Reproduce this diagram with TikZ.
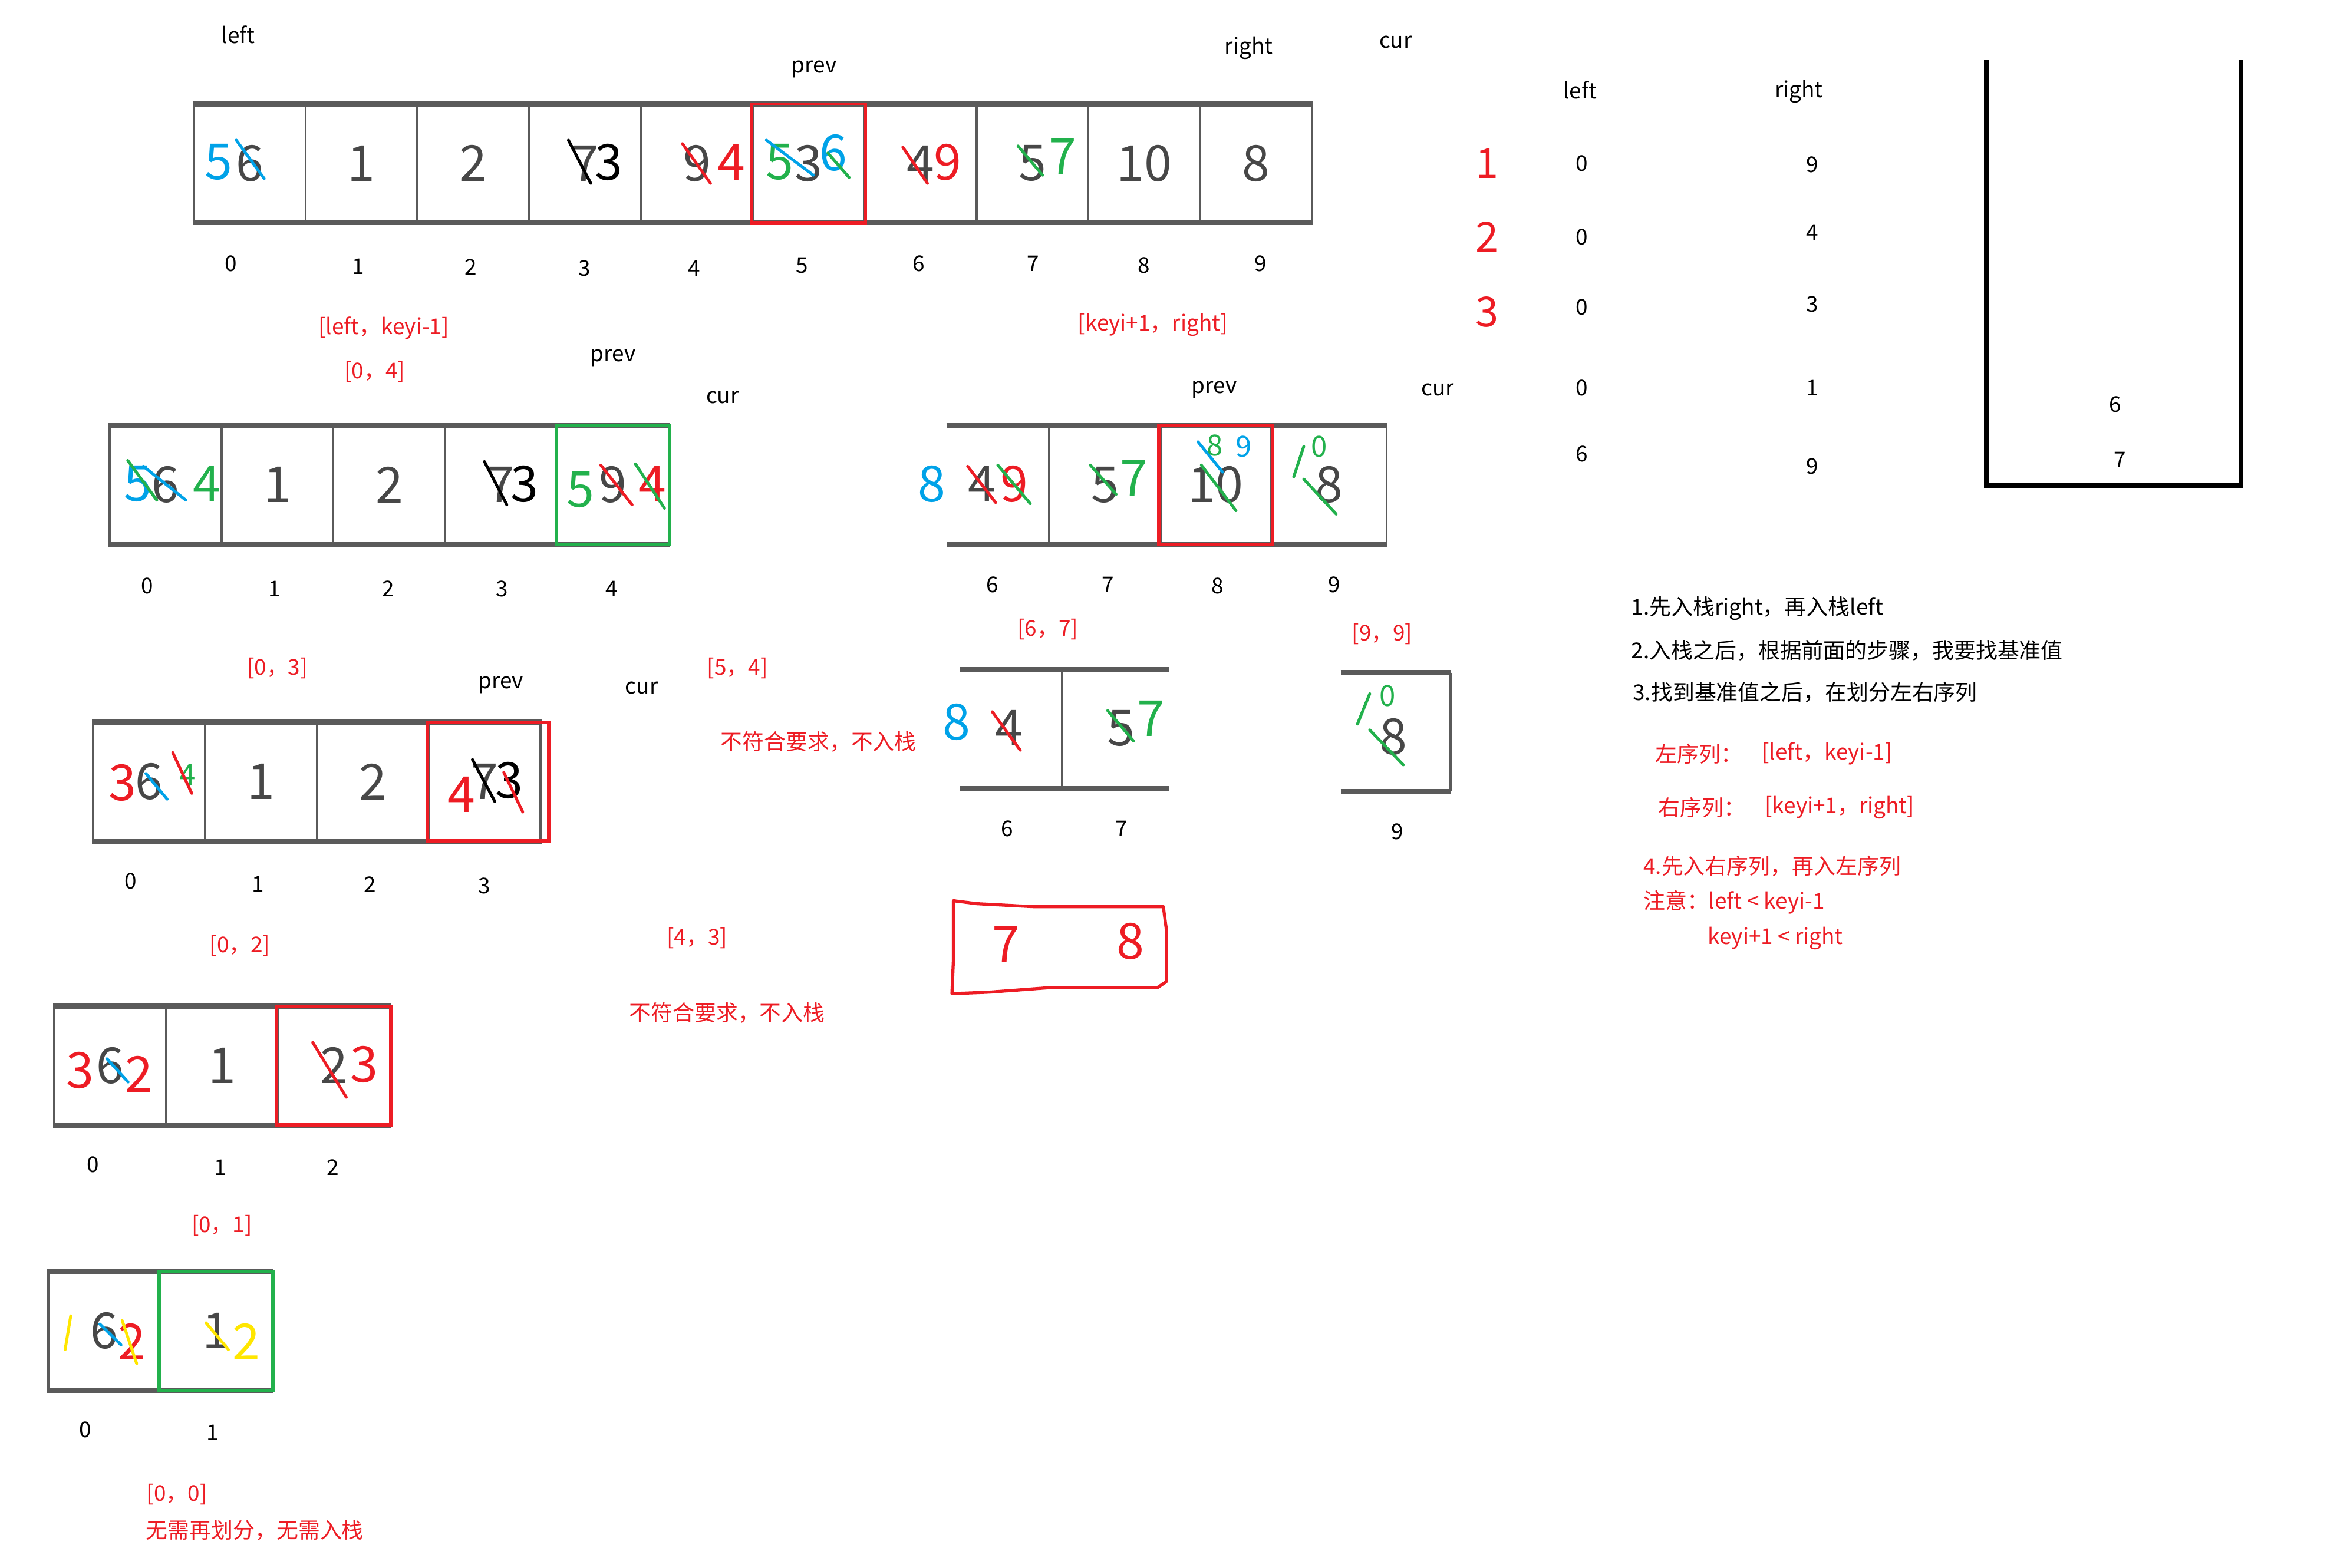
\documentclass[tikz,border=0pt]{standalone}
\usepackage{fontspec}
\setmainfont{Noto Sans CJK SC}
\usetikzlibrary{positioning}

\definecolor{pred}{HTML}{ED1C24}
\definecolor{pgreen}{HTML}{22B14C}
\definecolor{pblue}{HTML}{00A2E8}
\definecolor{pyellow}{HTML}{FFE600}
\definecolor{cellgray}{HTML}{5A5A5A}

\newcommand\notesize{\fontsize{10.5}{12}\selectfont}
\newcommand\digitsize{\fontsize{24}{26}\selectfont}
\newcommand\marksize{\fontsize{14}{15}\selectfont}

\tikzset{
  cell/.style={draw=cellgray, line width=1pt, minimum width=1.897cm, minimum height=1.98cm, inner sep=0pt, font=\digitsize, text=black!72},
  ocell/.style={cell, draw=none},
  bar/.style={draw=cellgray, line width=2.5pt},
  divider/.style={draw=cellgray, line width=1pt},
  olddigit/.style={inner sep=0pt, font=\digitsize, text=black!72},
  hw/.style={inner sep=0pt, font=\digitsize, text=#1},
  hwsmall/.style={inner sep=0pt, font=\marksize, text=#1},
  strike/.style={draw=#1, line width=1.4pt, line cap=round},
  hl/.style={draw=#1, line width=1.5pt},
  txt/.style={inner sep=0pt, font=\notesize},
  rtxt/.style={txt, text=pred},
  incell/.style={shift={(#1.north west)}, x=1.897cm, y=-1.98cm}
}

\begin{document}
\begin{tikzpicture}[x=0.025434cm, y=-0.025434cm]
\useasboundingbox (0,0) rectangle (1567.6,1046.2);

% Full array, indices 0..9
\foreach \v [count=\i from 0] in {6,1,2,7,9,3,4,5,10,8}
  \node[cell] (a1c\i) at ({166.5+74.6*\i},109) {\v};
\draw[bar] (a1c0.north west) -- (a1c9.north east);
\draw[bar] (a1c0.south west) -- (a1c9.south east);
\draw[hl=pred] (a1c5.north west) rectangle (a1c5.south east);
\foreach \i/\x/\y in {0/154/176,1/239/178,2/314/178,3/390/179,4/463/179,5/535/177,6/613/176,7/689/176,8/763/177,9/841/176}
  \node[txt] (a1i\i) at (\x,\y) {\i};
\node[txt] (a1left) at (159,23) {left};
\node[txt] (a1prev) at (543,46) {prev};
\node[txt] (a1right) at (833,32) {right};
\node[txt] (a1cur) at (931,28) {cur};

% Marks on the full array
\begin{scope}[incell=a1c0]
  \node[hw=pblue] (a1m0) at (0.23,0.5) {5};
  \draw[strike=pblue] (0.39,0.31) -- (0.64,0.64);
\end{scope}
\begin{scope}[incell=a1c3]
  \draw[strike=black] (0.36,0.31) -- (0.56,0.68);
  \node[hw=black] (a1m3) at (0.72,0.5) {3};
\end{scope}
\begin{scope}[incell=a1c4]
  \draw[strike=pred] (0.38,0.34) -- (0.63,0.68);
  \node[hw=pred] (a1m4) at (0.82,0.5) {4};
\end{scope}
\begin{scope}[incell=a1c5]
  \node[hw=pgreen] (a1m5a) at (0.25,0.5) {5};
  \draw[strike=pblue] (0.13,0.31) -- (0.55,0.61);
  \node[hw=pblue] (a1m5b) at (0.73,0.42) {6};
  \draw[strike=pgreen] (0.68,0.42) -- (0.87,0.63);
\end{scope}
\begin{scope}[incell=a1c6]
  \draw[strike=pred] (0.35,0.37) -- (0.57,0.68);
  \node[hw=pred] (a1m6) at (0.75,0.5) {9};
\end{scope}
\begin{scope}[incell=a1c7]
  \draw[strike=pgreen] (0.38,0.36) -- (0.6,0.61);
  \node[hw=pgreen] (a1m7) at (0.78,0.45) {7};
\end{scope}

% Left part [0, 4]
\node[rtxt] (l1) at (256,219) {[left，keyi-1]};
\node[rtxt] (l2) at (250,248) {[0，4]};
\foreach \v [count=\i from 0] in {6,1,2,7,9}
  \node[cell] (a2c\i) at ({110.5+74.6*\i},323.5) {\v};
\draw[bar] (a2c0.north west) -- (a2c4.north east);
\draw[bar] (a2c0.south west) -- (a2c4.south east);
\draw[hl=pgreen] (a2c4.north west) rectangle (a2c4.south east);
\foreach \i/\x/\y in {0/98/391,1/183/393,2/259/393,3/335/393,4/408/393}
  \node[txt] (a2i\i) at (\x,\y) {\i};
\node[txt] (a2prev) at (409,239) {prev};
\node[txt] (a2cur) at (482,265) {cur};
\begin{scope}[incell=a2c0]
  \node[hw=pblue] (a2m0a) at (0.26,0.5) {5};
  \draw[strike=pgreen] (0.17,0.30) -- (0.43,0.64);
  \draw[strike=pblue] (0.31,0.35) -- (0.69,0.64);
  \node[hw=pgreen] (a2m0b) at (0.88,0.5) {4};
\end{scope}
\begin{scope}[incell=a2c3]
  \draw[strike=black] (0.36,0.31) -- (0.56,0.68);
  \node[hw=black] (a2m3) at (0.72,0.5) {3};
\end{scope}
\begin{scope}[incell=a2c4]
  \node[hw=pgreen] (a2m4a) at (0.22,0.55) {5};
  \draw[strike=pred] (0.40,0.34) -- (0.68,0.68);
  \node[hw=pred] (a2m4b) at (0.86,0.5) {4};
  \draw[strike=pgreen] (0.71,0.33) -- (0.97,0.71);
\end{scope}

% Right part [6, 9]
\node[rtxt] (r1) at (769,217) {[keyi+1，right]};
\node[ocell, minimum width=1.730cm] (b2c6) at (666,323.5) {};
\node[cell] (b2c7) at (737,323.5) {5};
\node[cell] (b2c8) at (811,323.5) {10};
\node[cell, minimum width=1.958cm] (b2c9) at (886.5,323.5) {8};
\draw[bar] (b2c6.north west) -- (b2c9.north east);
\draw[bar] (b2c6.south west) -- (b2c9.south east);
\draw[hl=pred] (b2c8.north west) rectangle (b2c8.south east);
\foreach \i/\x/\y in {6/662/390,7/739/390,8/812/391,9/890/390}
  \node[txt] (b2i\i) at (\x,\y) {\i};
\node[txt] (b2prev) at (810,260) {prev};
\node[txt] (b2cur) at (959,260) {cur};
\begin{scope}[incell=b2c6]
  \node[olddigit] (b2d6) at (0.32,0.5) {4};
  \node[hw=pblue] (b2m6a) at (-0.13,0.5) {8};
  \draw[strike=pred] (0.19,0.35) -- (0.44,0.66);
  \node[hw=pred] (b2m6b) at (0.61,0.5) {9};
  \draw[strike=pgreen] (0.46,0.34) -- (0.75,0.67);
\end{scope}
\begin{scope}[incell=b2c7]
  \draw[strike=pgreen] (0.38,0.34) -- (0.61,0.59);
  \node[hw=pgreen] (b2m7) at (0.77,0.45) {7};
\end{scope}
\begin{scope}[incell=b2c8]
  \draw[strike=pgreen] (0.38,0.34) -- (0.69,0.73);
  \draw[strike=pblue] (0.35,0.14) -- (0.57,0.40);
  \node[hwsmall=pgreen] (b2m8a) at (0.5,0.17) {8};
  \node[hwsmall=pblue] (b2m8b) at (0.76,0.18) {9};
\end{scope}
\begin{scope}[incell=b2c9]
  \draw[strike=pgreen] (0.30,0.18) -- (0.21,0.44);
  \node[hwsmall=pgreen] (b2m9) at (0.44,0.18) {0};
  \draw[strike=pgreen] (0.30,0.46) -- (0.59,0.76);
\end{scope}
\node[rtxt] (r2) at (699,420) {[6，7]};
\node[rtxt] (r3) at (922,423) {[9，9]};

% Left part [0, 3]
\node[rtxt] (l3) at (185,446) {[0，3]};
\foreach \v [count=\i from 0] in {6,1,2,7}
  \node[cell] (a3c\i) at ({99.5+74.6*\i},521.5) {\v};
\draw[bar] (a3c0.north west) -- (a3c3.north east);
\draw[bar] (a3c0.south west) -- (a3c3.south east);
\draw[hl=pred] (a3c3.north west) rectangle ([xshift=0.12cm]a3c3.south east);
\foreach \i/\x/\y in {0/87/588,1/172/590,2/247/590,3/323/591}
  \node[txt] (a3i\i) at (\x,\y) {\i};
\node[txt] (a3prev) at (334,457) {prev};
\node[txt] (a3cur) at (428,459) {cur};
\begin{scope}[incell=a3c0]
  \node[hw=pred] (a3m0a) at (0.27,0.52) {3};
  \draw[strike=pblue] (0.48,0.44) -- (0.67,0.66);
  \node[hwsmall=pgreen] (a3m0b) at (0.85,0.45) {4};
  \draw[strike=pred] (0.72,0.26) -- (0.89,0.61);
\end{scope}
\begin{scope}[incell=a3c3]
  \draw[strike=black] (0.40,0.32) -- (0.60,0.68);
  \node[hw=black] (a3m3a) at (0.73,0.5) {3};
  \node[hw=pred] (a3m3b) at (0.30,0.62) {4};
  \draw[strike=pred] (0.68,0.43) -- (0.85,0.77);
\end{scope}
\node[rtxt] (l4) at (492,446) {[5，4]};
\node[rtxt] (l5) at (546,495) {不符合要求，不入栈};

% Right part [6, 7] and [9, 9]
\node[ocell, minimum width=1.730cm] (b3c6) at (675,486.5) {};
\node[ocell, minimum width=1.780cm] (b3c7) at (744,486.5) {};
\draw[bar] (b3c6.north west) -- (b3c7.north east);
\draw[bar] (b3c6.south west) -- (b3c7.south east);
\draw[divider] (b3c7.north west) -- (b3c7.south west);
\begin{scope}[incell=b3c6]
  \node[olddigit] (b3d6) at (0.44,0.5) {4};
  \node[hw=pblue] (b3m6) at (-0.03,0.45) {8};
  \draw[strike=pred] (0.29,0.36) -- (0.54,0.69);
\end{scope}
\begin{scope}[incell=b3c7]
  \node[olddigit] (b3d7) at (0.53,0.5) {5};
  \draw[strike=pgreen] (0.41,0.35) -- (0.64,0.61);
  \node[hw=pgreen] (b3m7) at (0.8,0.42) {7};
\end{scope}
\node[ocell, minimum width=1.831cm] (b3c9) at (931,488.5) {};
\draw[bar] (b3c9.north west) -- (b3c9.north east);
\draw[bar] (b3c9.south west) -- (b3c9.south east);
\draw[divider] (b3c9.north east) -- (b3c9.south east);
\begin{scope}[incell=b3c9]
  \node[olddigit] (b3d9) at (0.47,0.55) {8};
  \draw[strike=pgreen] (0.26,0.18) -- (0.15,0.44);
  \node[hwsmall=pgreen] (b3m9) at (0.42,0.2) {0};
  \draw[strike=pgreen] (0.26,0.49) -- (0.56,0.79);
\end{scope}
\foreach \i/\x/\y in {6/672/553,7/748/553,9/932/555}
  \node[txt] (b3i\i) at (\x,\y) {\i};

% Right part after sorting
\node[hw=pred] (b4m7) at (671,630) {7};
\node[hw=pred] (b4m8) at (754,628) {8};
\draw[pred, line width=1.5pt, line join=round] (636,601) -- (652,603) -- (690,605) -- (776,605) -- (778,620) -- (778,655) -- (772,659) -- (700,659) -- (660,662) -- (635,663) -- (636,640) -- cycle;

% Left part [0, 2]
\node[rtxt] (l6) at (160,631) {[0，2]};
\foreach \v [count=\i from 0] in {6,1,2}
  \node[cell] (a4c\i) at ({73.5+74.6*\i},711) {\v};
\draw[bar] (a4c0.north west) -- (a4c2.north east);
\draw[bar] (a4c0.south west) -- (a4c2.south east);
\draw[hl=pred] (a4c2.north west) rectangle (a4c2.south east);
\foreach \i/\x/\y in {0/62/777,1/147/779,2/222/779}
  \node[txt] (a4i\i) at (\x,\y) {\i};
\begin{scope}[incell=a4c0]
  \node[hw=pred] (a4m0a) at (0.24,0.55) {3};
  \draw[strike=pblue] (0.48,0.45) -- (0.67,0.65);
  \node[hw=pred] (a4m0b) at (0.77,0.58) {2};
\end{scope}
\begin{scope}[incell=a4c2]
  \draw[strike=pred] (0.32,0.31) -- (0.62,0.78);
  \node[hw=pred] (a4m2) at (0.78,0.5) {3};
\end{scope}
\node[rtxt] (l7) at (465,626) {[4，3]};
\node[rtxt] (l8) at (485,676) {不符合要求，不入栈};

% Left part [0, 1]
\node[rtxt] (l9) at (148,818) {[0，1]};
\foreach \v [count=\i from 0] in {6,1}
  \node[cell] (a5c\i) at ({69.5+74.6*\i},888) {\v};
\draw[bar] (a5c0.north west) -- (a5c1.north east);
\draw[bar] (a5c0.south west) -- (a5c1.south east);
\draw[hl=pgreen] (a5c1.north west) rectangle (a5c1.south east);
\foreach \i/\x/\y in {0/57/954,1/142/956}
  \node[txt] (a5i\i) at (\x,\y) {\i};
\begin{scope}[incell=a5c0]
  \draw[strike=pyellow] (0.21,0.38) -- (0.16,0.67);
  \draw[strike=pblue] (0.47,0.45) -- (0.66,0.63);
  \node[hw=pred] (a5m0) at (0.76,0.6) {2};
  \draw[strike=pyellow] (0.67,0.42) -- (0.8,0.79);
\end{scope}
\begin{scope}[incell=a5c1]
  \draw[strike=pyellow] (0.42,0.44) -- (0.62,0.67);
  \node[hw=pyellow] (a5m1) at (0.78,0.6) {2};
\end{scope}
\node[rtxt] (l10) at (118,997) {[0，0]};
\node[rtxt] (l11) at (170,1021) {无需再划分，无需入栈};

% Stack of left / right
\node[txt] (sleft) at (1054,60) {left};
\node[txt] (sright) at (1200,61) {right};
\foreach \n/\y in {1/109,2/158,3/208}
  \node[hwsmall=pred, font=\fontsize{20}{22}\selectfont] (sn\n) at (992,\y) {\n};
\foreach \l/\r/\yl/\yr [count=\k] in {0/9/109/110,0/4/158/155,0/3/205/203,0/1/259/259,6/9/303/311}
{
  \node[txt] (sl\k) at (1055,\yl) {\l};
  \node[txt] (sr\k) at (1209,\yr) {\r};
}
\coordinate (stl) at (1325,40);
\coordinate (str) at (1495,40);
\draw[line width=2.2pt] (stl) -- (1325,324) -- (1495,324) -- (str);
\node[txt] (st6) at (1411,270) {6};
\node[txt] (st7) at (1414,307) {7};

% Notes
\node[txt, anchor=west] (n1) at (1088,406) {1.先入栈right，再入栈left};
\node[txt, anchor=west] (n2) at (1088,434) {2.入栈之后，根据前面的步骤，我要找基准值};
\node[txt, anchor=west] (n3) at (1089,462) {3.找到基准值之后，在划分左右序列};
\node[rtxt, anchor=west] (n4) at (1104,503) {左序列：};
\node[rtxt, anchor=west] (n5) at (1175,503) {[left，keyi-1]};
\node[rtxt, anchor=west] (n6) at (1106,539) {右序列：};
\node[rtxt, anchor=west] (n7) at (1177,539) {[keyi+1，right]};
\node[rtxt, anchor=west] (n8) at (1096,578) {4.先入右序列，再入左序列};
\node[rtxt, anchor=west] (n9) at (1096,602) {注意：left < keyi-1};
\node[rtxt, anchor=west] (n10) at (1139,626) {keyi+1 < right};
\end{tikzpicture}
\end{document}
